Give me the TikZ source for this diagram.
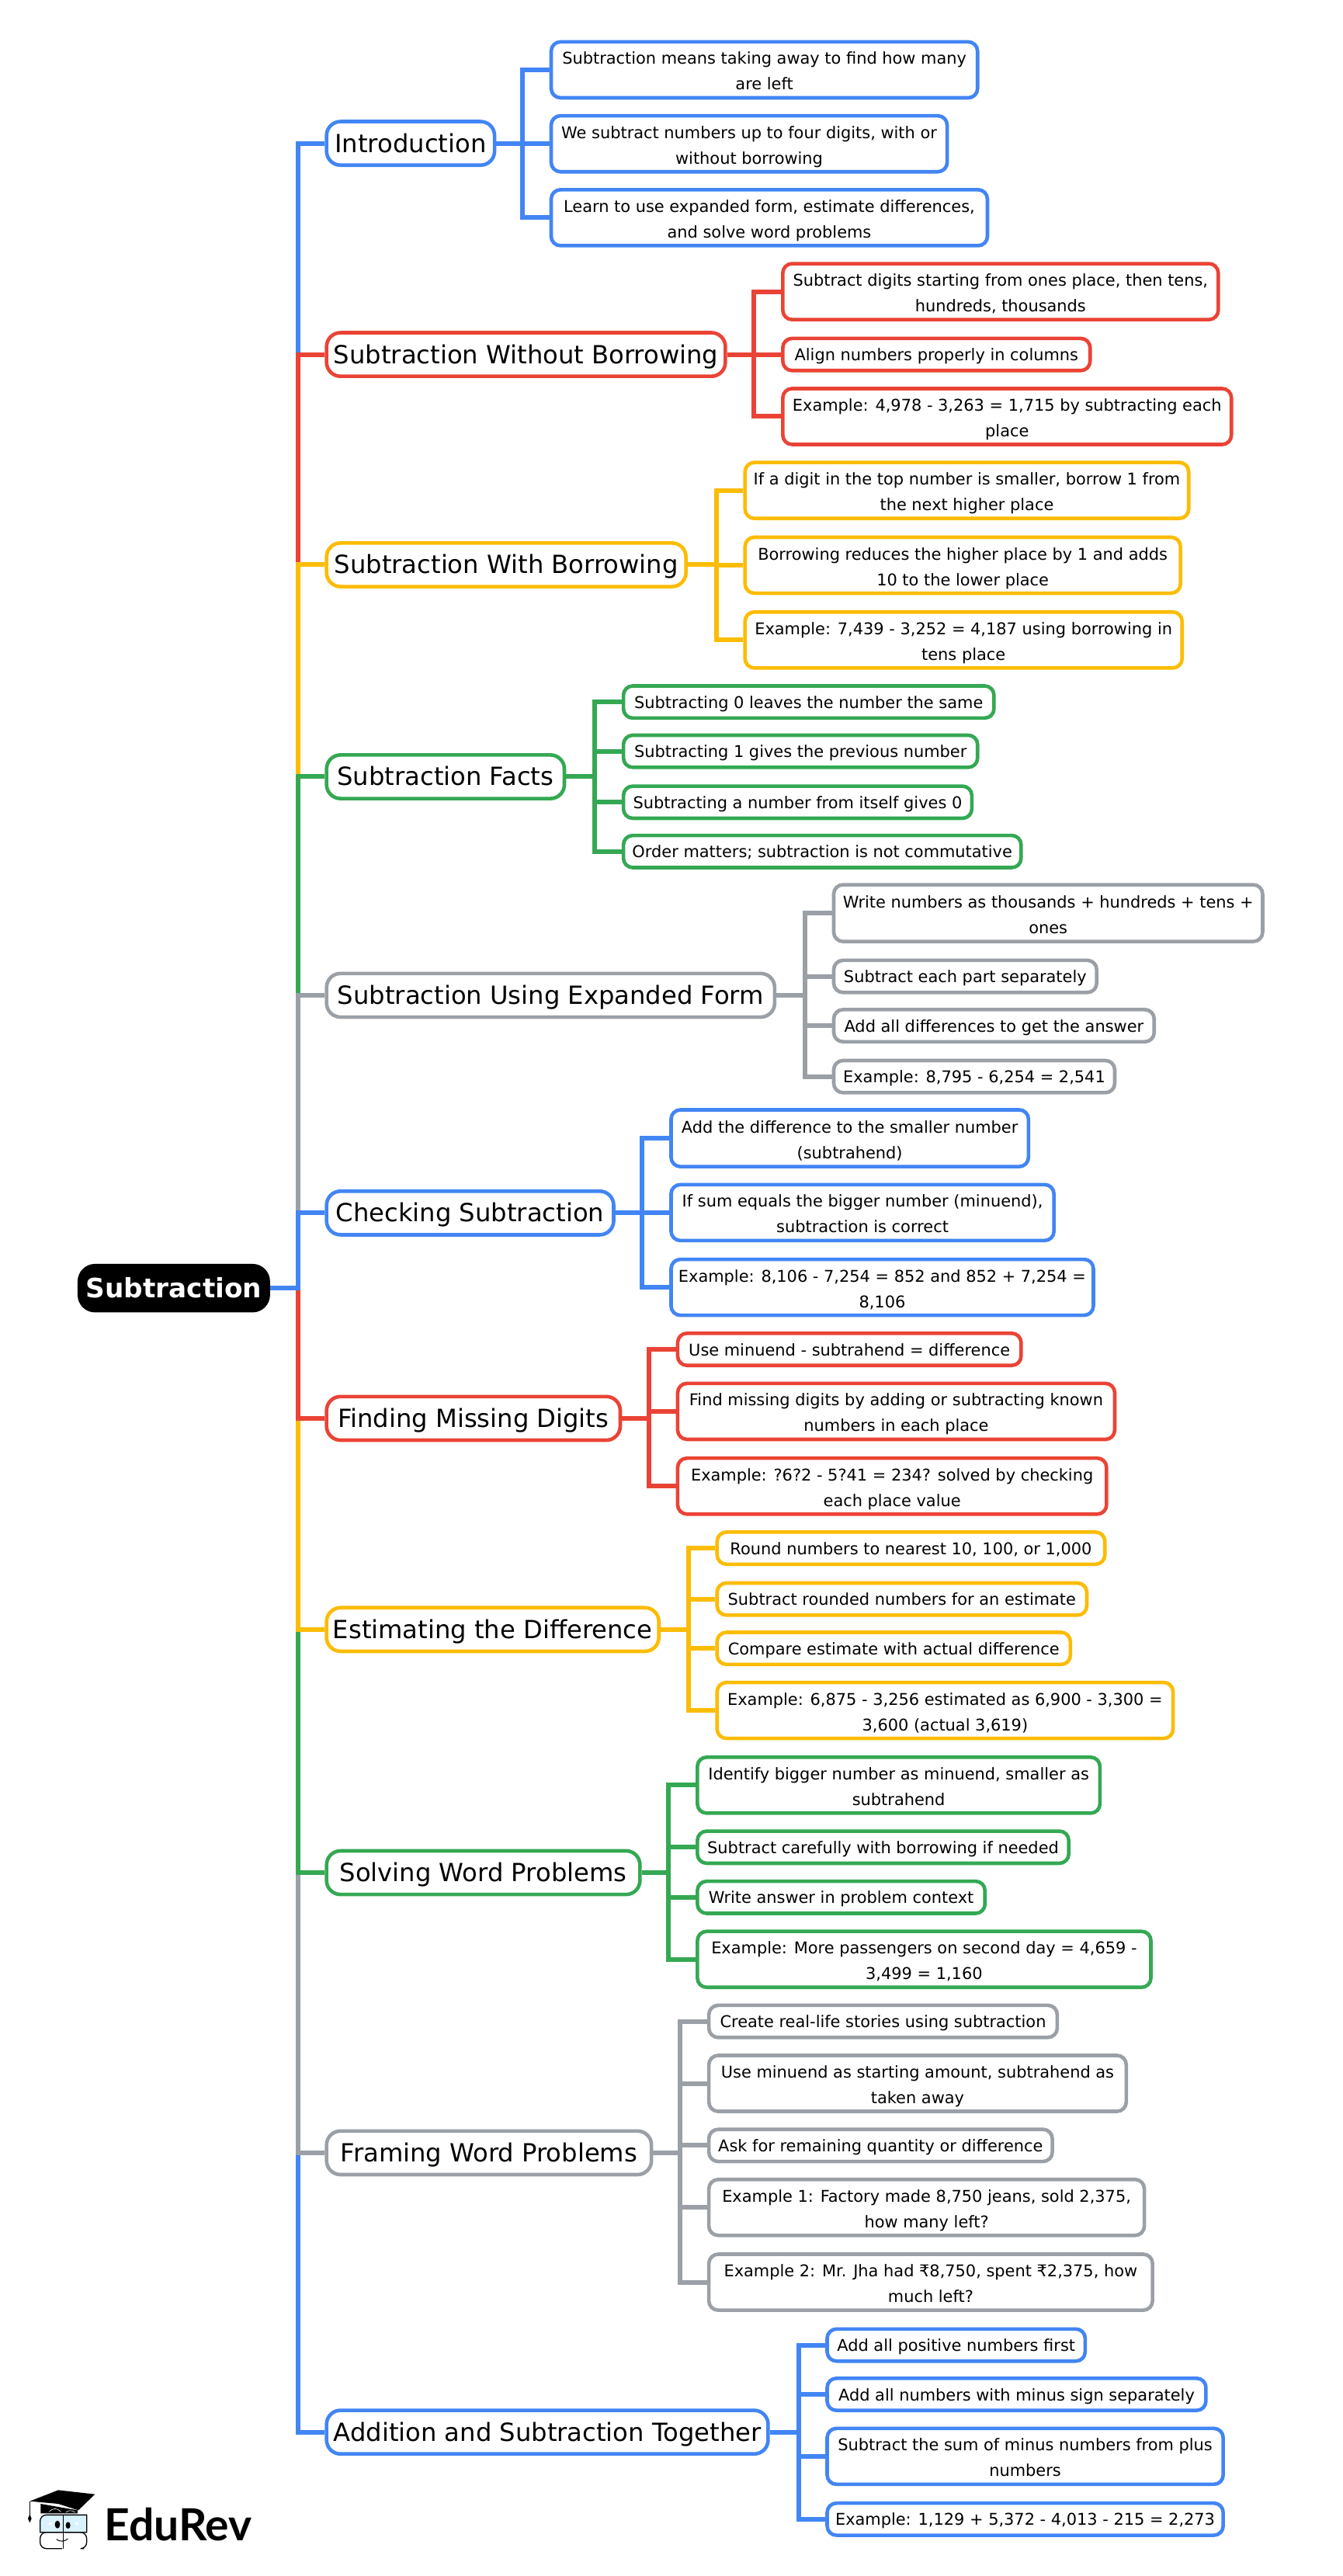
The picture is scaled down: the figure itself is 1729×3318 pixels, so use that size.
\documentclass[tikz,border=0pt]{standalone}
\usepackage{fontspec}
\setmainfont{DejaVu Sans}
\newfontfamily\logofont{Lato}
\definecolor{cblue}{HTML}{4285F4}
\definecolor{cred}{HTML}{EA4335}
\definecolor{cyel}{HTML}{FBBC04}
\definecolor{cgrn}{HTML}{34A853}
\definecolor{cgry}{HTML}{9AA0A6}
\newcommand\leafstrut{\rule[-8pt]{0pt}{32pt}}
\newcommand\nl{\rule{0pt}{27pt}\\[1pt]\leafstrut}
\tikzset{
  rootbox/.style={fill=black,draw=black,text=white,rounded corners=22pt,line width=1pt,inner sep=0pt,font=\fontsize{34.3}{40}\selectfont\bfseries},
  topicbox/.style={fill=white,rounded corners=18pt,line width=4.6pt,inner sep=0pt,text height=30pt,text depth=7pt,font=\fontsize{32.2}{38}\selectfont},
  leafbox/.style={fill=white,rounded corners=12pt,line width=4.6pt,inner sep=0pt,align=center,font=\fontsize{20.9}{32}\selectfont,execute at begin node=\leafstrut},
  link/.style={line width=6pt},
  trunklink/.style={line width=6pt}
}
\def\sc{2.1163}
\newcommand\mmn[8]{%
  \pgfmathsetmacro\cxx{(#4+#5)/2*\sc}%
  \pgfmathsetmacro\cyy{-(#6+#7)/2*\sc}%
  \pgfmathsetmacro\www{(#5-#4)*\sc-2}%
  \pgfmathsetmacro\hhh{(#7-#6)*\sc-2}%
  \node[#2,draw=#3,minimum width=\www pt,minimum height=\hhh pt] (#1) at (\cxx pt,\cyy pt) {#8};%
}
\newcommand\busline[4]{%
  \pgfmathsetmacro\bxx{#2*\sc}%
  \coordinate (#1bus) at (\bxx pt,0pt);%
  \foreach \cc in {#4}{\draw[link,#3] (#1.east) -- (#1.east -| #1bus) |- (\cc.west);}%
}
\newcommand\trunk[2]{\draw[trunklink,#2] (root.east) -- (trunkpt) |- (#1.west);}
\begin{document}
\begin{tikzpicture}
\path[fill=white] (0,-3318pt) rectangle (1729pt,0pt);
\useasboundingbox (0,-3318pt) rectangle (1729pt,0pt);
% root
\mmn{root}{rootbox}{black}{47}{164.6}{769}{799}{Subtraction}
% topics
\mmn{p1}{topicbox}{cblue}{198.3}{301.5}{73.5}{101}{Introduction}
\mmn{p2}{topicbox}{cred}{198.3}{442}{202}{229.5}{Subtraction Without Borrowing}
\mmn{p3}{topicbox}{cyel}{198.3}{418}{330}{357.5}{Subtraction With Borrowing}
\mmn{p4}{topicbox}{cgrn}{198.3}{344}{459}{486.5}{Subtraction Facts}
\mmn{p5}{topicbox}{cgry}{198.3}{472}{592}{619.5}{Subtraction Using Expanded Form}
\mmn{p6}{topicbox}{cblue}{198.3}{374}{724.5}{752}{Checking Subtraction}
\mmn{p7}{topicbox}{cred}{198.3}{378}{849.5}{877}{Finding Missing Digits}
\mmn{p8}{topicbox}{cyel}{198.3}{401.5}{978}{1005.5}{Estimating the Difference}
\mmn{p9}{topicbox}{cgrn}{198.3}{390}{1126}{1153.5}{Solving Word Problems}
\mmn{p10}{topicbox}{cgry}{198.3}{397}{1296.5}{1324}{Framing Word Problems}
\mmn{p11}{topicbox}{cblue}{198.3}{468}{1466.5}{1494}{Addition and Subtraction Together}
% leaves
\mmn{a1}{leafbox}{cblue}{335}{595.5}{25}{60}{Subtraction means taking away to find how many\nl are left}
\mmn{a2}{leafbox}{cblue}{335}{577}{70}{105}{We subtract numbers up to four digits, with or\nl without borrowing}
\mmn{a3}{leafbox}{cblue}{335}{601.5}{115}{150}{Learn to use expanded form, estimate differences,\nl and solve word problems}
\mmn{b1}{leafbox}{cred}{476}{742}{160}{195}{Subtract digits starting from ones place, then tens,\nl hundreds, thousands}
\mmn{b2}{leafbox}{cred}{476}{664}{205.5}{226}{Align numbers properly in columns}
\mmn{b3}{leafbox}{cred}{476}{750}{236}{271}{Example: 4,978 - 3,263 = 1,715 by subtracting each\nl place}
\mmn{c1}{leafbox}{cyel}{453}{724}{281}{316}{If a digit in the top number is smaller, borrow 1 from\nl the next higher place}
\mmn{c2}{leafbox}{cyel}{453}{719}{326.5}{361.5}{Borrowing reduces the higher place by 1 and adds\nl 10 to the lower place}
\mmn{c3}{leafbox}{cyel}{453}{720}{372}{407}{Example: 7,439 - 3,252 = 4,187 using borrowing in\nl tens place}
\mmn{d1}{leafbox}{cgrn}{379}{605.5}{417}{437.5}{Subtracting 0 leaves the number the same}
\mmn{d2}{leafbox}{cgrn}{379}{595.5}{447}{467.5}{Subtracting 1 gives the previous number}
\mmn{d3}{leafbox}{cgrn}{379}{592}{478}{498.5}{Subtracting a number from itself gives 0}
\mmn{d4}{leafbox}{cgrn}{379}{622}{508}{528.5}{Order matters; subtraction is not commutative}
\mmn{e1}{leafbox}{cgry}{507}{769}{538}{573.5}{Write numbers as thousands + hundreds + tens +\nl ones}
\mmn{e2}{leafbox}{cgry}{507}{668}{584}{604.5}{Subtract each part separately}
\mmn{e3}{leafbox}{cgry}{507}{703}{614}{634.5}{Add all differences to get the answer}
\mmn{e4}{leafbox}{cgry}{507}{679}{645}{665.5}{Example: 8,795 - 6,254 = 2,541}
\mmn{f1}{leafbox}{cblue}{408}{626.5}{675}{710.5}{Add the difference to the smaller number\nl (subtrahend)}
\mmn{f2}{leafbox}{cblue}{408}{642}{720.5}{755.5}{If sum equals the bigger number (minuend),\nl subtraction is correct}
\mmn{f3}{leafbox}{cblue}{408}{666}{766}{801}{Example: 8,106 - 7,254 = 852 and 852 + 7,254 =\nl 8,106}
\mmn{g1}{leafbox}{cred}{412}{622}{811}{831.5}{Use minuend - subtrahend = difference}
\mmn{g2}{leafbox}{cred}{412}{679}{841.5}{876.5}{Find missing digits by adding or subtracting known\nl numbers in each place}
\mmn{g3}{leafbox}{cred}{412}{674}{887}{922}{Example: ?6?2 - 5?41 = 234? solved by checking\nl each place value}
\mmn{h1}{leafbox}{cyel}{436}{673}{932}{952.5}{Round numbers to nearest 10, 100, or 1,000}
\mmn{h2}{leafbox}{cyel}{436}{662}{963}{983.5}{Subtract rounded numbers for an estimate}
\mmn{h3}{leafbox}{cyel}{436}{652}{993}{1013.5}{Compare estimate with actual difference}
\mmn{h4}{leafbox}{cyel}{436}{714.5}{1023.5}{1058.5}{Example: 6,875 - 3,256 estimated as 6,900 - 3,300 =\nl 3,600 (actual 3,619)}
\mmn{i1}{leafbox}{cgrn}{424}{670}{1069}{1104}{Identify bigger number as minuend, smaller as\nl subtrahend}
\mmn{i2}{leafbox}{cgrn}{424}{651}{1114}{1134.5}{Subtract carefully with borrowing if needed}
\mmn{i3}{leafbox}{cgrn}{424}{600}{1144.5}{1165}{Write answer in problem context}
\mmn{i4}{leafbox}{cgrn}{424}{701}{1175}{1210}{Example: More passengers on second day = 4,659 -\nl 3,499 = 1,160}
\mmn{j1}{leafbox}{cgry}{431}{644}{1220}{1240.5}{Create real-life stories using subtraction}
\mmn{j2}{leafbox}{cgry}{431}{686}{1250.5}{1285.5}{Use minuend as starting amount, subtrahend as\nl taken away}
\mmn{j3}{leafbox}{cgry}{431}{641}{1295.5}{1316}{Ask for remaining quantity or difference}
\mmn{j4}{leafbox}{cgry}{431}{697}{1326}{1361}{Example 1: Factory made 8,750 jeans, sold 2,375,\nl how many left?}
\mmn{j5}{leafbox}{cgry}{431}{702}{1371.5}{1406.5}{Example 2: Mr. Jha had ₹8,750, spent ₹2,375, how\nl much left?}
\mmn{k1}{leafbox}{cblue}{503}{661}{1417}{1437.5}{Add all positive numbers first}
\mmn{k2}{leafbox}{cblue}{503}{734.5}{1447}{1467.5}{Add all numbers with minus sign separately}
\mmn{k3}{leafbox}{cblue}{503}{745}{1477.5}{1512.5}{Subtract the sum of minus numbers from plus\nl numbers}
\mmn{k4}{leafbox}{cblue}{503}{745}{1523}{1543.5}{Example: 1,129 + 5,372 - 4,013 - 215 = 2,273}
% sub connectors
\busline{p1}{318}{cblue}{a1,a2,a3}
\busline{p2}{459}{cred}{b1,b2,b3}
\busline{p3}{436}{cyel}{c1,c2,c3}
\busline{p4}{362}{cgrn}{d1,d2,d3,d4}
\busline{p5}{490}{cgry}{e1,e2,e3,e4}
\busline{p6}{391}{cblue}{f1,f2,f3}
\busline{p7}{395}{cred}{g1,g2,g3}
\busline{p8}{419}{cyel}{h1,h2,h3,h4}
\busline{p9}{407}{cgrn}{i1,i2,i3,i4}
\busline{p10}{414}{cgry}{j1,j2,j3,j4,j5}
\busline{p11}{486}{cblue}{k1,k2,k3,k4}
% trunk
\pgfmathsetmacro\txx{181.5*\sc}
\coordinate (tx) at (\txx pt,0pt);
\coordinate (trunkpt) at (root.east -| tx);
\trunk{p1}{cblue}
\trunk{p11}{cblue}
\trunk{p2}{cred}
\trunk{p10}{cgry}
\trunk{p3}{cyel}
\trunk{p9}{cgrn}
\trunk{p4}{cgrn}
\trunk{p8}{cyel}
\trunk{p5}{cgry}
\trunk{p7}{cred}
\trunk{p6}{cblue}
% logo
\begin{scope}[shift={(0pt,-3150pt)},x=0.3333pt,y=-0.3333pt]
  \draw[line width=1.3pt,fill=cyan!15!white] (155,290) to[rounded corners=8pt] (155,268) -- (335,268) -- (335,335) -- (155,335) -- cycle;
  \draw[line width=1.3pt,rounded corners=8pt] (240,335) -- (155,335) -- (155,398) -- (240,398);
  \draw[line width=1.3pt,rounded corners=8pt] (250,335) -- (335,335) -- (335,398) -- (325,398);
  \draw[line width=1.6pt] (245,268) -- (245,400);
  \fill[black] (157,225) -- (157,262) -- (300,262) -- (300,250) -- cycle;
  \fill[black] (115,215) -- (225,172) -- (367,188) -- (303,250) -- (225,225) -- cycle;
  \draw[white,line width=0.6pt] (190,256) .. controls (205,240) and (220,240) .. (235,256);
  \draw[white,line width=0.6pt] (255,258) .. controls (265,248) and (280,250) .. (290,258);
  \draw[line width=0.9pt] (115,215) -- (115,270);
  \fill[black] (115,265) -- (122,282) -- (115,298) -- (108,282) -- cycle;
  \fill[black] (222,305) ellipse [x radius=10,y radius=15];
  \fill[black] (263,308) ellipse [x radius=9,y radius=13];
  \fill[white] (190,298) rectangle (200,306);
  \fill[white] (290,298) rectangle (302,306);
  \draw[line width=1pt] (218,362) .. controls (230,372) and (250,372) .. (262,360);
\end{scope}
\node[anchor=base west,inner sep=0pt,font=\logofont\bfseries\fontsize{57}{60}\selectfont] (logotext) at (134pt,-3272pt) {EduRev};
\end{tikzpicture}
\end{document}
